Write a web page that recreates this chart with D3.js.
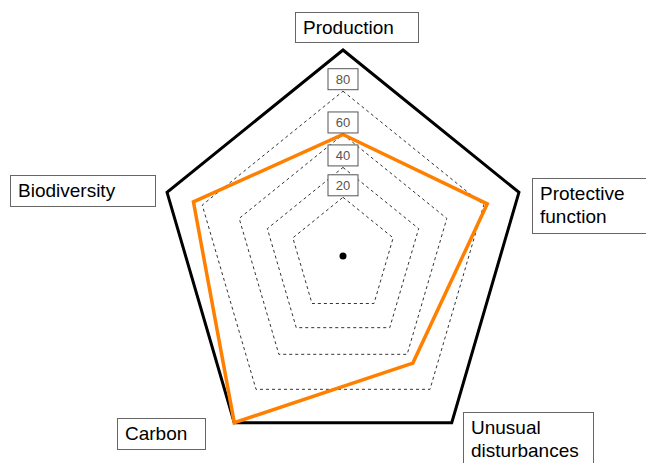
<!DOCTYPE html>
<html>
<head>
<meta charset="utf-8">
<script src="https://cdn.jsdelivr.net/npm/d3@7"></script>
<style>
  body { margin: 0; background: #fff; }
  svg text { font-family: Arial, "Liberation Sans", sans-serif; }
</style>
</head>
<body>
<div id="chart"></div>
<script>
// chart data
const axes = ["Production", "Protective function", "Unusual disturbances", "Carbon", "Biodiversity"];
const values = [60, 82, 65, 100, 85];
const ringTicks = [20, 40, 60, 80];
const axisMax = 100;

const width = 646, height = 463;
const cx = 343, cy = 256;
const Rx = 185, Ry = 206;   // the original figure is squeezed horizontally

const svg = d3.select("#chart").append("svg")
    .attr("width", width)
    .attr("height", height);

// radial scale; the rings in the original are not evenly spaced
const r = d3.scaleLinear()
    .domain([0, 20, 40, 60, 80, 100])
    .range([0, 0.285, 0.43, 0.59, 0.80, 1]);

const angle = d3.scalePoint()
    .domain(axes)
    .range([0, 2 * Math.PI * (axes.length - 1) / axes.length]);

function pt(axis, v) {
    let a = angle(axis), f = r(v);
    return [cx + Math.sin(a) * f * Rx, cy - Math.cos(a) * f * Ry];
}

const line = d3.line().curve(d3.curveLinearClosed);

// dashed rings
svg.append("g").selectAll("path")
    .data(ringTicks)
    .enter().append("path")
    .attr("d", t => line(axes.map(a => pt(a, t))))
    .attr("fill", "none")
    .attr("stroke", "#333")
    .attr("stroke-width", 1)
    .attr("stroke-dasharray", "3,3");

// outer frame
svg.append("path")
    .attr("d", line(axes.map(a => pt(a, axisMax))))
    .attr("fill", "none")
    .attr("stroke", "#000")
    .attr("stroke-width", 3)
    .attr("stroke-linejoin", "miter");

// data polygon
svg.append("path")
    .attr("d", line(axes.map((a, i) => pt(a, values[i]))))
    .attr("fill", "none")
    .attr("stroke", "#ff8000")
    .attr("stroke-width", 3.5)
    .attr("stroke-linejoin", "miter");

// center dot
svg.append("circle")
    .attr("cx", cx).attr("cy", cy).attr("r", 3.5)
    .attr("fill", "#000");

// tick labels in small boxes along the top axis
const tickG = svg.append("g").selectAll("g")
    .data(ringTicks)
    .enter().append("g")
    .attr("transform", t => `translate(${cx}, ${pt(axes[0], t)[1] - 12})`);

tickG.append("rect")
    .attr("x", -15).attr("y", -10.5)
    .attr("width", 30).attr("height", 21)
    .attr("fill", "#fff")
    .attr("stroke", "#555")
    .attr("stroke-width", 1);

tickG.append("text")
    .attr("text-anchor", "middle")
    .attr("dy", "0.36em")
    .attr("font-size", 13)
    .attr("fill", "#555")
    .text(t => t);

// axis name boxes
const labelBoxes = [
    {x: 295, y: 12, w: 123, h: 30, lines: ["Production"]},
    {x: 532, y: 178, w: 120, h: 55, lines: ["Protective", "function"]},
    {x: 463, y: 412, w: 130, h: 60, lines: ["Unusual", "disturbances"]},
    {x: 117, y: 418, w: 88, h: 31, lines: ["Carbon"]},
    {x: 10, y: 175, w: 145, h: 31, lines: ["Biodiversity"]}
];

const lab = svg.append("g").selectAll("g")
    .data(axes)
    .enter().append("g");

lab.append("rect")
    .attr("x", (d, i) => labelBoxes[i].x + 0.5)
    .attr("y", (d, i) => labelBoxes[i].y + 0.5)
    .attr("width", (d, i) => labelBoxes[i].w)
    .attr("height", (d, i) => labelBoxes[i].h)
    .attr("fill", "#fff")
    .attr("stroke", "#666")
    .attr("stroke-width", 1);

lab.each(function (d, i) {
    let b = labelBoxes[i];
    let t = d3.select(this).append("text")
        .attr("font-size", 19)
        .attr("fill", "#000");
    b.lines.forEach((s, k) => {
        t.append("tspan")
            .attr("x", b.x + 8)
            .attr("y", b.y + 22 + k * 23)
            .text(s);
    });
});
</script>
</body>
</html>
